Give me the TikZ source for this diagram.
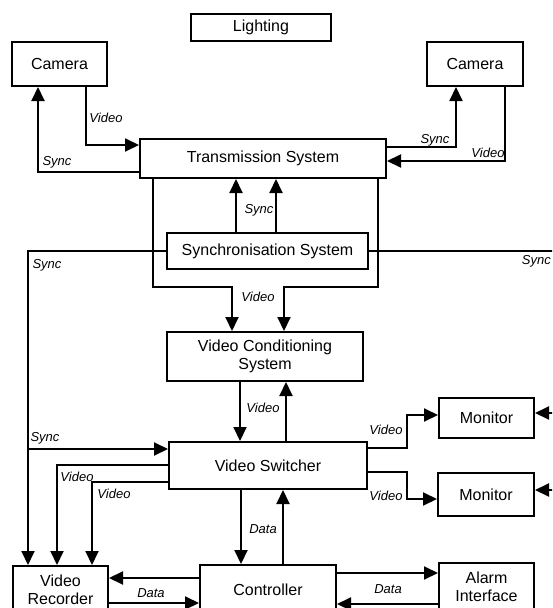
\documentclass[tikz,border=0pt]{standalone}
\usepackage{fontspec}
\setmainfont{Liberation Sans}
\usetikzlibrary{arrows.meta}
\begin{document}
\begin{tikzpicture}[x=1pt,y=-1pt,
  box/.style={draw,line width=2pt,inner sep=0pt,align=center,font=\fontsize{16}{18}\selectfont},
  conn/.style={line width=2pt},
  arr/.style={conn,-{Triangle[length=14pt,width=13pt]}},
  lbl/.style={font=\fontsize{13}{15}\selectfont\itshape,inner sep=0pt}]
\useasboundingbox (0,0) rectangle (552,608);
\fill[white] (0,0) rectangle (552,608);
\clip (0,0) rectangle (552,608);
% boxes
\node[box,minimum width=140pt,minimum height=27pt] (light) at (261,27.5) {Lighting};
\node[box,minimum width=95pt,minimum height=44pt] (camL) at (59.5,64) {Camera};
\node[box,minimum width=96pt,minimum height=44pt] (camR) at (475,64) {Camera};
\node[box,minimum width=246pt,minimum height=39pt] (trans) at (263,158.5) {Transmission System};
\node[box,minimum width=201pt,minimum height=36pt] (sync) at (267.5,251) {Synchronisation System};
\node[box,minimum width=196pt,minimum height=49pt] (vcs) at (265,356.5) {Video Conditioning\\System};
\node[box,minimum width=198pt,minimum height=47pt] (vsw) at (268,465.5) {Video Switcher};
\node[box,minimum width=95pt,minimum height=40pt] (mon1) at (486.5,418) {Monitor};
\node[box,minimum width=96pt,minimum height=43pt] (mon2) at (486,494.5) {Monitor};
\node[box,minimum width=136pt,minimum height=50pt] (ctrl) at (268,590) {Controller};
\node[box,minimum width=95pt,minimum height=48pt] (vrec) at (60.5,590) {Video\\Recorder};
\node[box,minimum width=95pt,minimum height=48pt] (alarm) at (486.5,587) {Alarm\\Interface};
% cameras
\draw[arr] (86,0 |- camL.south) |- (trans.west |- 0,145);
\draw[arr] (trans.west |- 0,172) -| (38,0 |- camL.south);
\draw[arr] (trans.east |- 0,147) -| (456,0 |- camR.south);
\draw[arr] (505,0 |- camR.south) |- (trans.east |- 0,161);
% sync to transmission
\draw[arr] (236,0 |- sync.north) -- (236,0 |- trans.south);
\draw[arr] (276,0 |- sync.north) -- (276,0 |- trans.south);
% transmission to conditioning
\draw[arr] (153,0 |- trans.south) |- (232,287) -- (232,0 |- vcs.north);
\draw[arr] (378,0 |- trans.south) |- (284,287) -- (284,0 |- vcs.north);
% sync outputs
\draw[arr] (sync.west) -| (28,0 |- vrec.north);
\coordinate (sb) at (28,449);
\draw[arr] (sb) -- (vsw.west |- sb);
\draw[conn] (sync.east) -- (560,0 |- sync.east);
% conditioning - switcher
\draw[arr] (240,0 |- vcs.south) -- (240,0 |- vsw.north);
\draw[arr] (286,0 |- vsw.north) -- (286,0 |- vcs.south);
% switcher to recorder
\draw[arr] (vsw.west |- 0,465) -| (57,0 |- vrec.north);
\draw[arr] (vsw.west |- 0,482) -| (92,0 |- vrec.north);
% switcher to monitors
\draw[arr] (vsw.east |- 0,448) -| (407,415) -- (mon1.west |- 0,415);
\draw[arr] (vsw.east |- 0,472) -| (407,499) -- (mon2.west |- 0,499);
\coordinate (m1r) at (560,413);
\coordinate (m2r) at (560,490);
\draw[arr] (m1r) -- (mon1.east |- m1r);
\draw[arr] (m2r) -- (mon2.east |- m2r);
% switcher - controller
\draw[arr] (241,0 |- vsw.south) -- (241,0 |- ctrl.north);
\draw[arr] (283,0 |- ctrl.north) -- (283,0 |- vsw.south);
% controller - recorder
\draw[arr] (ctrl.west |- 0,578) -- (vrec.east |- 0,578);
\draw[arr] (vrec.east |- 0,603) -- (ctrl.west |- 0,603);
% controller - alarm
\draw[arr] (ctrl.east |- 0,573) -- (alarm.west |- 0,573);
\draw[arr] (alarm.west |- 0,604) -- (ctrl.east |- 0,604);
% labels
\node[lbl] (l1) at (106,118) {Video};
\node[lbl] (l2) at (57,162) {Sync};
\node[lbl] (l3) at (435,140) {Sync};
\node[lbl] (l4) at (488,153) {Video};
\node[lbl] (l5) at (259,210) {Sync};
\node[lbl] (l6) at (258,297) {Video};
\node[lbl] (l7) at (47,265) {Sync};
\node[lbl] (l8) at (45,438) {Sync};
\node[lbl,anchor=east] (l9) at (551,261) {Sync};
\node[lbl] (l10) at (263,408) {Video};
\node[lbl] (l11) at (77,477) {Video};
\node[lbl] (l12) at (114,494) {Video};
\node[lbl] (l13) at (386,430) {Video};
\node[lbl] (l14) at (386,496) {Video};
\node[lbl] (l15) at (263,529) {Data};
\node[lbl] (l16) at (151,593) {Data};
\node[lbl] (l17) at (388,589) {Data};
\end{tikzpicture}
\end{document}
